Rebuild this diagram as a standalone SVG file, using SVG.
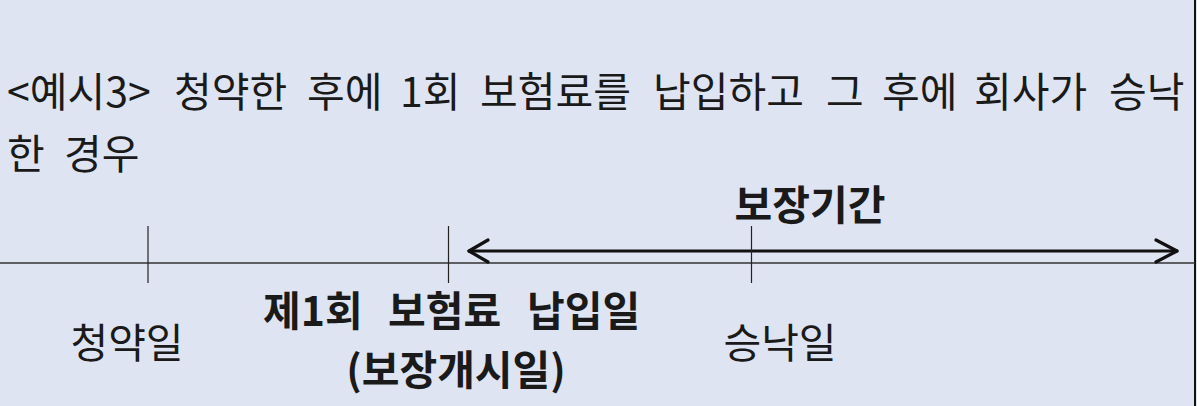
<svg xmlns="http://www.w3.org/2000/svg" width="1197" height="406" viewBox="0 0 1197 406">
<defs>
<style>
.t{font-family:"Noto Sans CJK KR","Noto Sans",sans-serif;fill:#1a1a1a;font-size:41px}
.b{font-weight:bold;font-size:41px}
.tick{stroke:#222;stroke-width:1.2}
.axis{stroke:#333;stroke-width:1.6}
.arr{stroke:#111;stroke-width:3.2;fill:none;stroke-linecap:round;stroke-linejoin:round}
</style>
</defs>
<rect x="0" y="0" width="1197" height="406" fill="#dfe4f2"/>
<line x1="1195" y1="0" x2="1195" y2="406" stroke="#111" stroke-width="2"/>
<g id="title">
<text class="t" y="107"><tspan x="7">&lt;예시3&gt;</tspan><tspan x="174">청약한</tspan><tspan x="307">후에</tspan><tspan x="400">1회</tspan><tspan x="480">보험료를</tspan><tspan x="653">납입하고</tspan><tspan x="826">그</tspan><tspan x="882">후에</tspan><tspan x="974">회사가</tspan><tspan x="1109">승낙</tspan></text>
<text class="t" y="169"><tspan x="7">한</tspan><tspan x="64">경우</tspan></text>
</g>
<g id="connectors">
<line class="axis" x1="0" y1="263" x2="1195" y2="263"/>
<line class="arr" x1="469" y1="251" x2="1177" y2="251"/>
<polyline class="arr" points="488,240 469,251 488,262"/>
<polyline class="arr" points="1156,240 1177,251 1156,262"/>
</g>
<g id="n-cheongyak">
<line class="tick" x1="148" y1="226" x2="148" y2="283"/>
<text class="t" x="127" y="358" text-anchor="middle" font-size="43">청약일</text>
</g>
<g id="n-payment">
<line class="tick" x1="448.5" y1="226" x2="448.5" y2="283"/>
<text class="t b" y="326"><tspan x="263">제1회</tspan><tspan x="388">보험료</tspan><tspan x="527">납입일</tspan></text>
<text class="t b" x="456" y="385" text-anchor="middle">(보장개시일)</text>
</g>
<g id="n-approval">
<line class="tick" x1="751.5" y1="226" x2="751.5" y2="283"/>
<text class="t" x="780" y="358" text-anchor="middle" font-size="44">승낙일</text>
</g>
<g id="n-period">
<text class="t b" x="810" y="220" text-anchor="middle" font-size="42.5">보장기간</text>
</g>
</svg>
